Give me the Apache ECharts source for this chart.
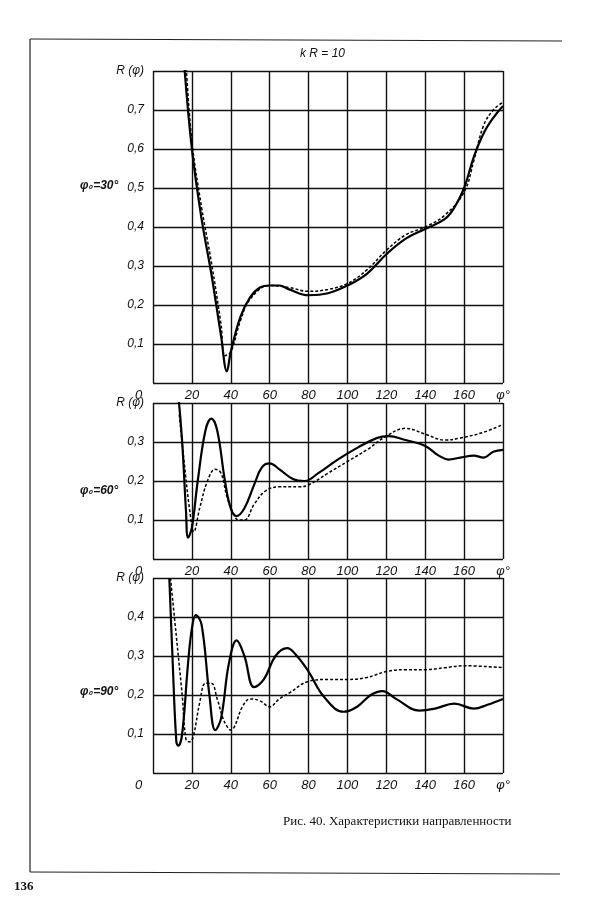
<!DOCTYPE html>
<html><head><meta charset="utf-8">
<script src="https://cdn.jsdelivr.net/npm/echarts@6/dist/echarts.min.js"></script>
<style>html,body{margin:0;background:#fff}#c{width:600px;height:919px}</style></head>
<body><div id="c"></div>
<script>
const xTicks = [0,20,40,60,80,100,120,140,160,180];
const p1Solid = [[16,0.82],[20,0.6],[25,0.42],[30,0.28],[35,0.12],[38,0.03],[40,0.08],[45,0.17],[50,0.22],[55,0.245],[60,0.25],[65,0.25],[70,0.24],[80,0.225],[90,0.23],[100,0.25],[110,0.28],[120,0.33],[130,0.37],[140,0.395],[150,0.42],[155,0.45],[160,0.5],[165,0.58],[170,0.64],[175,0.68],[180,0.71]];
const p1Dash = [[17,0.82],[20,0.62],[25,0.45],[30,0.31],[35,0.15],[37,0.07],[40,0.08],[45,0.16],[50,0.215],[60,0.25],[70,0.245],[80,0.235],[90,0.24],[100,0.255],[110,0.29],[120,0.34],[130,0.38],[140,0.4],[150,0.43],[160,0.49],[165,0.57],[170,0.66],[175,0.7],[180,0.72]];
const p2Solid = [[13.2,0.41],[15,0.3],[17,0.12],[18,0.055],[20,0.08],[23,0.2],[27,0.33],[30,0.36],[33,0.33],[37,0.2],[40,0.13],[43,0.11],[47,0.13],[52,0.19],[56,0.235],[60,0.245],[65,0.23],[72,0.205],[78,0.2],[85,0.22],[95,0.255],[105,0.285],[115,0.31],[121,0.315],[130,0.305],[140,0.29],[147,0.265],[152,0.255],[158,0.26],[165,0.265],[170,0.26],[175,0.275],[180,0.28]];
const p2Dash = [[13.5,0.37],[16,0.25],[19,0.12],[21,0.07],[24,0.13],[28,0.2],[32,0.23],[35,0.22],[38,0.16],[41,0.12],[44,0.1],[47,0.1],[52,0.14],[58,0.175],[65,0.185],[75,0.185],[80,0.19],[90,0.22],[100,0.25],[110,0.28],[120,0.315],[130,0.335],[140,0.32],[150,0.305],[158,0.31],[170,0.325],[180,0.345]];
const p3Solid = [[8.4,0.5],[10,0.3],[12,0.08],[13,0.07],[15,0.1],[18,0.28],[20,0.37],[22,0.405],[25,0.38],[29,0.2],[32,0.11],[35,0.14],[39,0.28],[43,0.34],[47,0.3],[52,0.22],[57,0.24],[63,0.3],[69,0.32],[74,0.3],[80,0.26],[88,0.195],[98,0.157],[105,0.17],[112,0.2],[118,0.21],[125,0.19],[137,0.16],[145,0.165],[155,0.178],[165,0.165],[172,0.175],[180,0.19]];
const p3Dash = [[9,0.5],[12,0.35],[15,0.2],[17,0.085],[19,0.08],[21,0.1],[24,0.18],[27,0.23],[30,0.23],[33,0.19],[36,0.14],[38,0.12],[40,0.11],[42,0.12],[46,0.17],[50,0.19],[55,0.185],[60,0.17],[65,0.19],[70,0.205],[80,0.235],[90,0.24],[100,0.24],[110,0.245],[120,0.26],[130,0.265],[140,0.265],[150,0.27],[160,0.275],[180,0.27]];

const F = 'Liberation Sans';
const panels = [
  {top:71, bottom:383, max:0.8, s:p1Solid, d:p1Dash, lab:'φ₀=30°', ly:180},
  {top:403, bottom:559, max:0.4, s:p2Solid, d:p2Dash, lab:'φ₀=60°', ly:485},
  {top:578, bottom:773, max:0.5, s:p3Solid, d:p3Dash, lab:'φ₀=90°', ly:686}
];
const L = 153, R = 503;
const grid=[], xAxis=[], yAxis=[], series=[], graphic=[];
panels.forEach((p,i)=>{
  grid.push({left:L, width:R-L, top:p.top, height:p.bottom-p.top});
  xAxis.push({type:'value', gridIndex:i, min:0, max:180, interval:20,
    axisLine:{show:false}, axisTick:{show:false},
    splitLine:{lineStyle:{color:'#111', width:1.4}},
    axisLabel:{fontFamily:F, fontStyle:'italic', fontSize:13, color:'#111', margin:6,
      formatter:v=> v===0?'0        ':(v===180?'φ°':String(v))}});
  yAxis.push({type:'value', gridIndex:i, min:0, max:p.max, interval:0.1,
    axisLine:{show:false}, axisTick:{show:false},
    splitLine:{lineStyle:{color:'#111', width:1.4}},
    axisLabel:{fontFamily:F, fontStyle:'italic', fontSize:12, color:'#111', margin:9,
      formatter:v=>{ if(v===0) return ''; if(Math.abs(v-p.max)<1e-6) return 'R (φ)'; return v.toFixed(1).replace('.',','); }}});
  series.push({type:'line', xAxisIndex:i, yAxisIndex:i, data:p.s, smooth:0.4, symbol:'none',
    lineStyle:{color:'#000', width:2.2}});
  series.push({type:'line', xAxisIndex:i, yAxisIndex:i, data:p.d, smooth:0.4, symbol:'none',
    lineStyle:{color:'#000', width:1.5, type:[3,2]}});
  graphic.push({type:'text', left:80, top:p.ly,
    style:{text:p.lab, font:'italic bold 12px '+F, fill:'#111'}});
});
graphic.push({type:'text', left:300, top:48, style:{text:'k R = 10', font:'italic 12px '+F, fill:'#111'}});
graphic.push({type:'text', left:283, top:815, style:{text:'Рис. 40. Характеристики направленности', font:'13px "Liberation Serif"', fill:'#111'}});
graphic.push({type:'text', left:14, top:880, style:{text:'136', font:'bold 13px "Liberation Serif"', fill:'#111'}});
graphic.push({type:'line', shape:{x1:30,y1:39,x2:562,y2:41}, style:{stroke:'#222', lineWidth:1.2}});
graphic.push({type:'line', shape:{x1:30,y1:39,x2:30,y2:872}, style:{stroke:'#222', lineWidth:1.2}});
graphic.push({type:'line', shape:{x1:30,y1:872,x2:560,y2:874}, style:{stroke:'#222', lineWidth:1.2}});
const chart = echarts.init(document.getElementById('c'));
chart.setOption({animation:false, backgroundColor:'#fff', grid, xAxis, yAxis, series, graphic});
</script></body></html>
